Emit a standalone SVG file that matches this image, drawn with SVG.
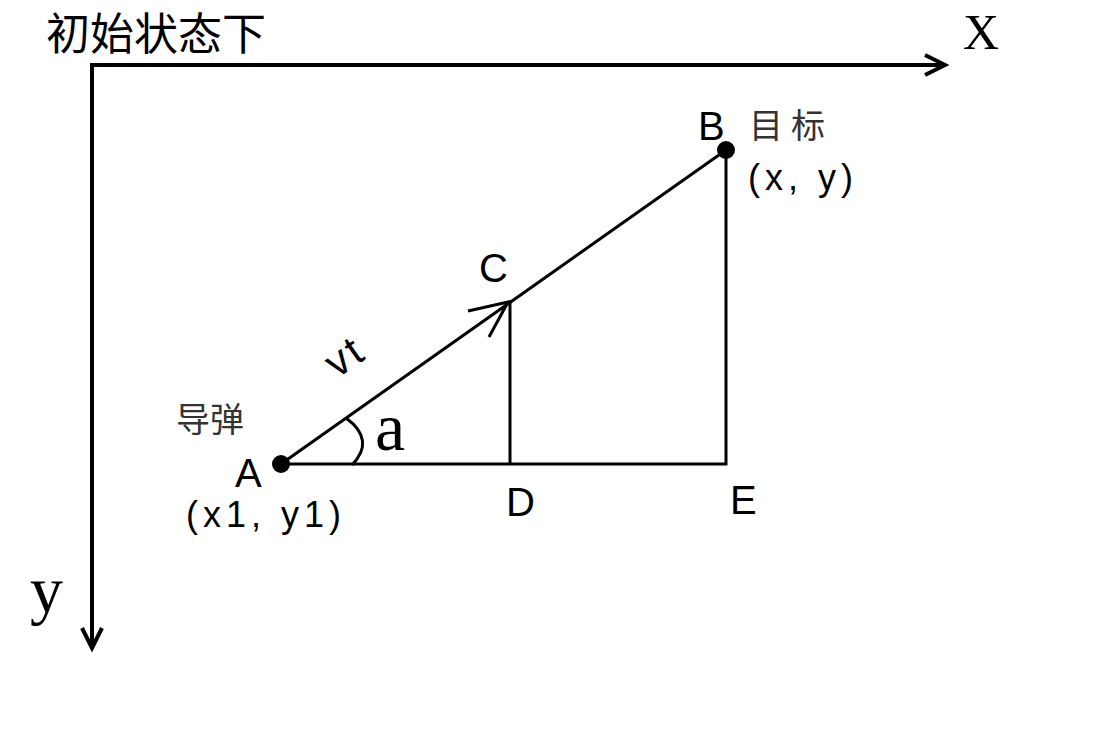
<svg xmlns="http://www.w3.org/2000/svg" width="1100" height="730" viewBox="0 0 1100 730">
<style>
.ax{stroke:#000;stroke-width:4;fill:none}
.ln{stroke:#000;stroke-width:3;fill:none}
.cjk{font-family:"Noto Sans CJK SC","Noto Sans",sans-serif;fill:#000}
.lat{font-family:"Liberation Sans",Arial,sans-serif;fill:#000}
.ser{font-family:"Liberation Serif","Times New Roman",serif;fill:#000}
.gray{fill:#333}
</style>
<rect width="1100" height="730" fill="#fff"/>
<g id="title"><text class="cjk" x="46" y="50" font-size="44">初始状态下</text></g>
<g id="axes">
<path class="ax" d="M92,648 V65 H945"/>
<path class="ax" d="M925,55 L945,65 L925,75"/>
<path class="ax" d="M82,628 L92,648 L102,628"/>
<text class="ser" x="963" y="49" font-size="50">X</text>
<text class="ser" x="30" y="612" font-size="66">y</text>
</g>
<g id="connectors">
<path class="ln" d="M281,464 L726,150"/>
<path class="ln" d="M281,464 H726 V150"/>
<path class="ln" d="M510,302 V464"/>
<path class="ln" d="M468,311 L508,302 L489,337"/>
<path class="ln" d="M346,418 Q376,440 352,465"/>
</g>
<g id="nodeA">
<circle cx="281" cy="464" r="9" fill="#000"/>
<text class="lat" x="235" y="487" font-size="40">A</text>
<text class="cjk gray" x="176" y="432" font-size="34">导弹</text>
<text class="lat" x="186" y="527" font-size="36" letter-spacing="5">(x1, y1)</text>
</g>
<g id="nodeB">
<circle cx="726" cy="150" r="9" fill="#000"/>
<text class="lat" x="698" y="140" font-size="40">B</text>
<text class="cjk gray" x="749" y="138" font-size="34" letter-spacing="8">目标</text>
<text class="lat" x="748" y="190" font-size="36" letter-spacing="5">(x, y)</text>
</g>
<g id="nodeC"><text class="lat" x="479" y="282" font-size="40">C</text></g>
<g id="nodeD"><text class="lat" x="506" y="516" font-size="40">D</text></g>
<g id="nodeE"><text class="lat" x="730" y="514" font-size="40">E</text></g>
<g id="labels">
<text class="lat" x="0" y="0" font-size="42" letter-spacing="3" transform="translate(337,379) rotate(-35)">vt</text>
<text class="ser" x="375" y="450" font-size="68">a</text>
</g>
</svg>
